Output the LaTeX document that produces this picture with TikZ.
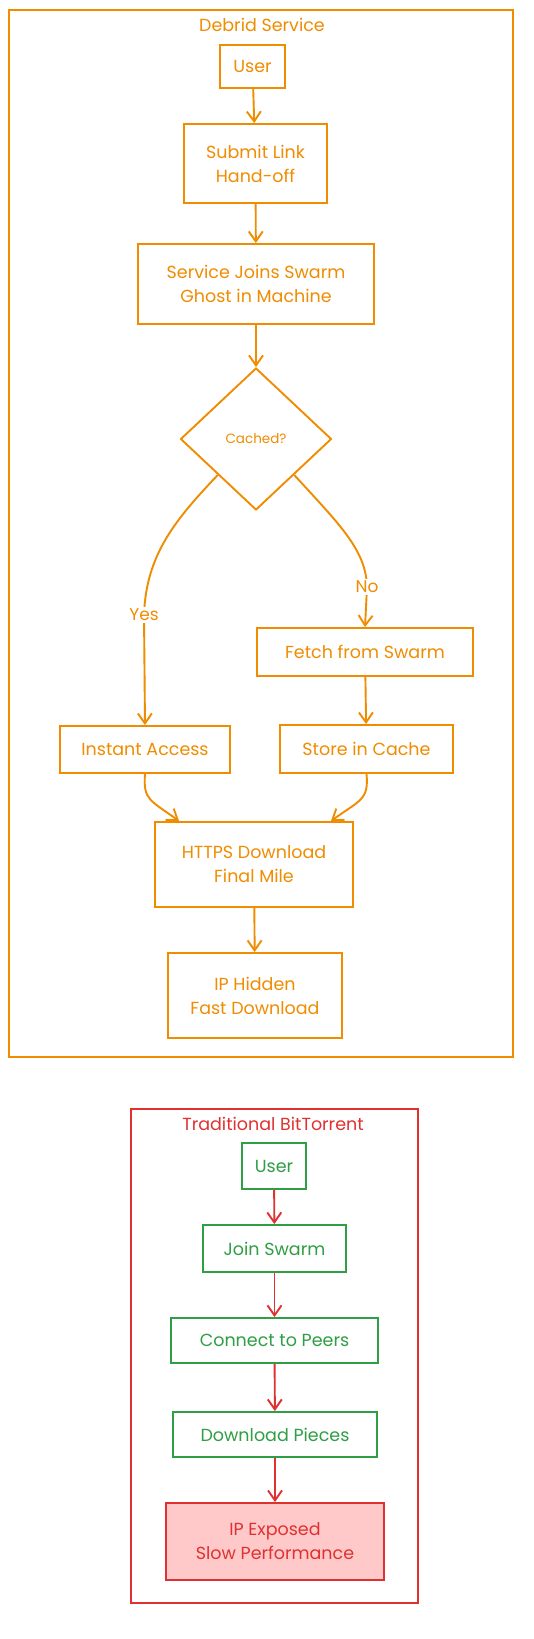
\documentclass[tikz,border=0pt]{standalone}
\usepackage{fontspec}
\setmainfont{Poppins}
\usetikzlibrary{arrows.meta,shapes.geometric}
\definecolor{dorange}{HTML}{F08C00}
\definecolor{tred}{HTML}{E03131}
\definecolor{tgreen}{HTML}{2F9E44}
\definecolor{tpink}{HTML}{FFC9C9}
\begin{document}
\begin{tikzpicture}[x=1pt,y=-1pt,
        box/.style={draw,line width=1.9pt,align=center,inner sep=0pt,font=\fontsize{17.5}{24}\selectfont},
        flow/.style={line width=1.9pt,-{Straight Barb[length=10pt,width=14pt]}},
        lbl/.style={fill=white,inner sep=2pt,font=\fontsize{17}{20}\selectfont},
        title/.style={font=\fontsize{17.5}{20}\selectfont}]
        \useasboundingbox (0,0) rectangle (533,1639);
        \fill[white] (0,0) rectangle (533,1639);
        \draw[dorange,line width=2.2pt] (9,10) rectangle (513,1057);
        \node[title,text=dorange] (debrid) at (262,25) {Debrid Service};
        \begin{scope}[every node/.style={box,draw=dorange,text=dorange}]
            \node[minimum width=65pt,minimum height=43pt] (user1) at (252.5,66.5) {User};
            \node[minimum width=143pt,minimum height=79pt] (submit) at (255.5,163.5) {Submit Link\\Hand-off};
            \node[minimum width=236pt,minimum height=80pt] (joins) at (256,284) {Service Joins Swarm\\Ghost in Machine};
            \node[diamond,minimum width=151pt,minimum height=142pt,font=\fontsize{13.5}{16}\selectfont] (cached) at (256,439) {Cached?};
            \node[minimum width=216pt,minimum height=48pt] (fetch) at (365,652) {Fetch from Swarm};
            \node[minimum width=170pt,minimum height=47pt] (instant) at (145,749.5) {Instant Access};
            \node[minimum width=173pt,minimum height=48pt] (store) at (366.5,749) {Store in Cache};
            \node[minimum width=198pt,minimum height=85pt] (https) at (254,864.5) {HTTPS Download\\Final Mile};
            \node[minimum width=174pt,minimum height=85pt] (hidden) at (255,995.5) {IP Hidden\\Fast Download};
        \end{scope}
        \foreach \a/\b in {user1/submit, submit/joins, joins/cached, fetch/store, https/hidden} {
            \draw[flow,dorange] (\a) -- (\b);
        }
        \draw[flow,dorange] (cached.south west) .. controls (175,520) and (146,555) .. (144,615) node[lbl,text=dorange] (yes) {Yes} -- (instant.north);
        \draw[flow,dorange] (cached.south east) .. controls (340,525) and (366,550) .. (367,587) node[lbl,text=dorange] (no) {No} -- (fetch.north);
        \draw[flow,dorange] (instant.south) .. controls (143,800) and (150,800) .. ([xshift=25pt]https.north west);
        \draw[flow,dorange] (store.south) .. controls (369,800) and (360,800) .. ([xshift=-23pt]https.north east);
        \draw[tred,line width=2.2pt] (131,1109) rectangle (418,1603);
        \node[title,text=tred] (bittorrent) at (273,1124) {Traditional BitTorrent};
        \begin{scope}[every node/.style={box,draw=tgreen,text=tgreen}]
            \node[minimum width=64pt,minimum height=46pt] (user2) at (274,1166) {User};
            \node[minimum width=143pt,minimum height=47pt] (joinswarm) at (274.5,1248.5) {Join Swarm};
            \node[minimum width=207pt,minimum height=45pt] (connect) at (274.5,1340.5) {Connect to Peers};
            \node[minimum width=204pt,minimum height=45pt] (pieces) at (275,1434.5) {Download Pieces};
        \end{scope}
        \node[box,draw=tred,fill=tpink,text=tred,minimum width=218pt,minimum height=77pt] (exposed) at (275,1541.5) {IP Exposed\\Slow Performance};
        \foreach \a/\b in {user2/joinswarm, joinswarm/connect, connect/pieces, pieces/exposed} {
            \draw[flow,tred] (\a) -- (\b);
        }
    \end{tikzpicture}
\end{document}
